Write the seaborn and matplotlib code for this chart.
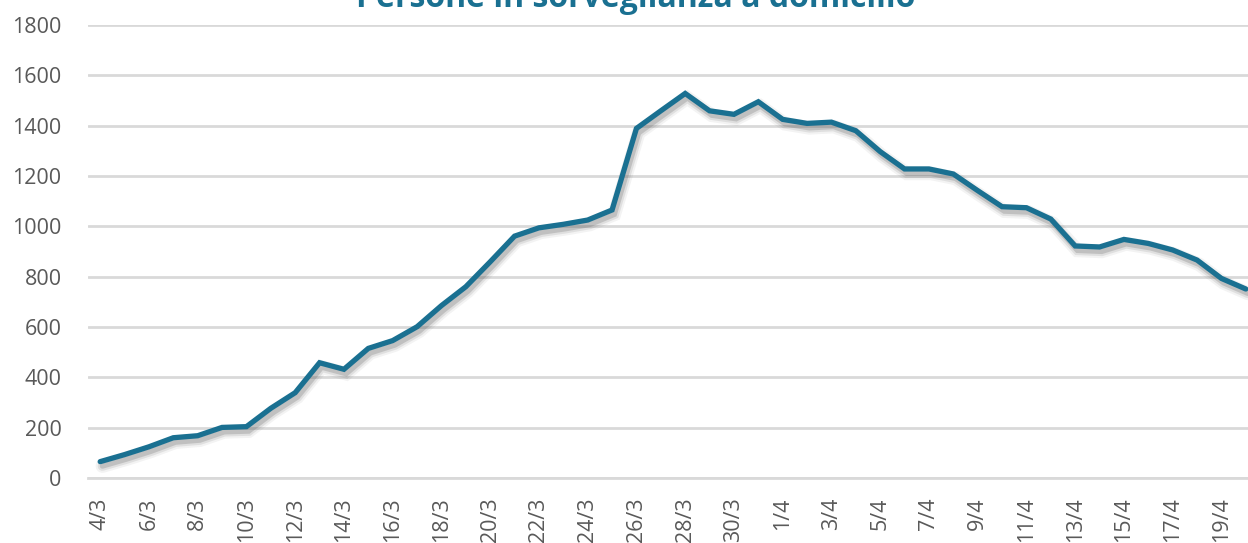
import pandas as pd
import matplotlib.pyplot as plt
import matplotlib.patheffects as pe
import seaborn as sns

# Daily dates from 4/3 to 20/4
days_march = [f"{d}/3" for d in range(4, 32)]
days_april = [f"{d}/4" for d in range(1, 21)]
dates = days_march + days_april

persone = [65, 93, 124, 160, 168, 201, 204, 277, 339, 458,
           432, 515, 546, 601, 685, 760, 859, 961, 994, 1008,
           1025, 1065, 1389, 1459, 1528, 1459, 1445, 1495, 1425, 1409,
           1414, 1380, 1297, 1228, 1228, 1208, 1142, 1078, 1074, 1029,
           922, 918, 948, 932, 906, 866, 793, 751]

title = "Persone in sorveglianza a domicilio"
line_color = "#1a7091"
grid_color = "#d9d9d9"
text_color = "#595959"

df = pd.DataFrame({"idx": range(len(dates)), "data": dates, "persone": persone})

sns.set_style("white")
plt.rcParams["font.family"] = ["Open Sans", "DejaVu Sans"]

W, H = 1248, 543
fig = plt.figure(figsize=(W / 100, H / 100), dpi=100)
ax = fig.add_axes([88 / W, 65 / H, (W - 88) / W, 453 / H])

lw = 3.8
sns.lineplot(data=df, x="idx", y="persone", ax=ax, color=line_color,
             linewidth=lw, solid_joinstyle="miter", zorder=3,
             path_effects=[
                 pe.SimpleLineShadow(offset=(1.6, -3.2), shadow_color="#555555", alpha=0.07, linewidth=lw + 6),
                 pe.SimpleLineShadow(offset=(1.6, -3.2), shadow_color="#555555", alpha=0.12, linewidth=lw + 3),
                 pe.SimpleLineShadow(offset=(1.6, -3.2), shadow_color="#555555", alpha=0.22, linewidth=lw),
                 pe.Normal(),
             ])

ax.set_ylim(0, 1800)
ax.set_xlim(-0.5, 47.09)
ax.set_yticks(range(0, 1801, 200))
ax.yaxis.grid(True, color=grid_color, linewidth=2)
ax.set_axisbelow(True)

# labels every second day at category centres, tick marks at boundaries
label_pos = list(range(0, len(dates), 2))
ax.set_xticks(label_pos)
ax.set_xticklabels([dates[i] for i in label_pos], rotation=90)
ax.set_xticks([i - 0.5 for i in label_pos], minor=True)
ax.tick_params(axis="x", which="major", length=0, pad=14, labelsize=15.5, labelcolor=text_color)
ax.tick_params(axis="x", which="minor", length=7, width=1.5, color=grid_color, direction="out")
ax.tick_params(axis="y", length=0, pad=19, labelsize=15.5, labelcolor=text_color)

for s in ["top", "right", "left"]:
    ax.spines[s].set_visible(False)
ax.spines["bottom"].set_color(grid_color)
ax.spines["bottom"].set_linewidth(2)
ax.set_xlabel("")
ax.set_ylabel("")

fig.text(636 / W, 1 - 7 / H, title, ha="center", va="baseline",
         fontsize=23, fontweight="bold", color=line_color)

fig.savefig("out.png", dpi=100)
